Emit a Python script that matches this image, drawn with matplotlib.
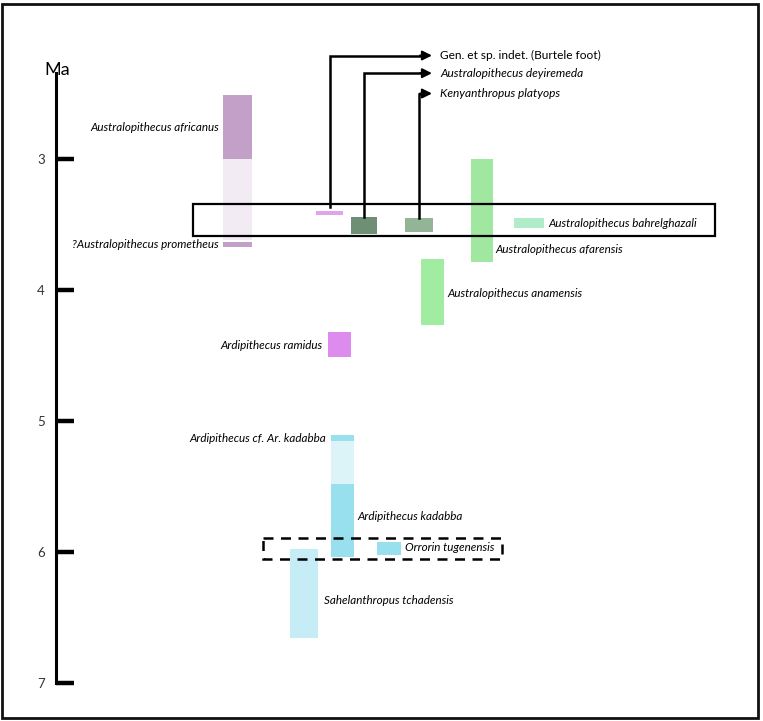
import matplotlib
matplotlib.use("Agg")
import matplotlib.pyplot as plt
from matplotlib.patches import Rectangle

plt.rcParams['font.family'] = ['Lato', 'DejaVu Sans']

# ---------------- data (Ma) ----------------
taxa = ["Australopithecus africanus", "?Australopithecus prometheus",
        "Gen. et sp. indet. (Burtele foot)", "Australopithecus deyiremeda",
        "Kenyanthropus platyops", "Australopithecus afarensis",
        "Australopithecus anamensis", "Australopithecus bahrelghazali",
        "Ardipithecus ramidus", "Ardipithecus cf. Ar. kadabba",
        "Ardipithecus kadabba", "Orrorin tugenensis", "Sahelanthropus tchadensis"]
ma_start = [2.51, 3.63, 3.40, 3.44, 3.45, 3.00, 3.76, 3.45, 4.32, 5.11, 5.48, 5.92, 5.98]
ma_end   = [3.00, 3.67, 3.43, 3.57, 3.56, 3.79, 4.27, 3.53, 4.51, 5.15, 6.04, 6.02, 6.66]
# uncertain (stippled) extensions
unc_start = [3.00, 5.15]
unc_end   = [3.62, 5.48]
ticks = [3, 4, 5, 6, 7]
tick_labels = ["3", "4", "5", "6", "7"]
# boxes (Ma)
box_solid = (3.34, 3.59)
box_dash = (5.89, 6.05)

# ---------------- layout ----------------
W, H = 763, 721
fig = plt.figure(figsize=(W / 100, H / 100), dpi=100)
ax = fig.add_axes([0, 0, 1, 1])
ax.set_xlim(0, W)
y0 = 3 - 159 / 131
y1 = 3 + (H - 159) / 131
ax.set_ylim(y1, y0)

# x positions (pixels) and widths of bars
xs = [223, 223, 316, 351, 405, 471, 421, 514, 328, 331, 331, 377, 290]
ws = [29, 29, 27, 26, 28, 22, 23, 30, 23, 23, 23, 24, 28]
cols = ["#c3a0c8", "#c3a0c8", "#e0a4ea", "#6f8f74", "#93b497", "#a0e8a0",
        "#a0eca0", "#b0ecc8", "#dd8cee", "#99e0ee", "#99e0ee", "#99e0ee", "#c6ecf5"]

for x, w, s, e, c in zip(xs, ws, ma_start, ma_end, cols):
    ax.add_patch(Rectangle((x, s), w, e - s, facecolor=c, edgecolor='none', zorder=2))

unc_x = [223, 331]
unc_w = [29, 23]
unc_c = ["#f3ebf3", "#dcf3f8"]
for x, w, s, e, c in zip(unc_x, unc_w, unc_start, unc_end, unc_c):
    ax.add_patch(Rectangle((x, s), w, e - s, facecolor=c, edgecolor='none', zorder=1))

# boxes
ax.add_patch(Rectangle((193, box_solid[0]), 522, box_solid[1] - box_solid[0],
                       facecolor='none', edgecolor='black', lw=1.6, zorder=3))
ax.add_patch(Rectangle((263, box_dash[0]), 239, box_dash[1] - box_dash[0],
                       facecolor='none', edgecolor='black', lw=1.8,
                       linestyle=(0, (4, 3)), zorder=3))

# arrows for the three taxa
arrow_tops = [2.21, 2.345, 2.50]   # Ma level of horizontal arrow segment
arrow_src_x = [330, 364, 419]
arrow_src_y = [3.37, 3.44, 3.45]
for xs_, ys_, yt, lab, it in zip(arrow_src_x, arrow_src_y, arrow_tops,
                                 taxa[2:5], ['normal', 'italic', 'italic']):
    ax.plot([xs_, xs_, 422], [ys_, yt, yt], color='black', lw=1.8, zorder=4,
            solid_joinstyle='miter')
    ax.annotate("", xy=(432, yt), xytext=(420, yt),
                arrowprops=dict(arrowstyle='-|>', color='black', lw=1.5,
                                mutation_scale=14, shrinkA=0, shrinkB=0))
    ax.text(440, yt, lab, fontsize=8.6, style=it, va='center', ha='left')

fs = 8.4
ax.text(219, 2.76, taxa[0], fontsize=fs, style='italic', ha='right', va='center')
ax.text(219, 3.65, taxa[1], fontsize=fs, style='italic', ha='right', va='center')
ax.text(548, 3.49, taxa[7], fontsize=fs, style='italic', ha='left', va='center')
ax.text(495, 3.69, taxa[5], fontsize=fs, style='italic', ha='left', va='center')
ax.text(447, 4.03, taxa[6], fontsize=fs, style='italic', ha='left', va='center')
ax.text(322, 4.42, taxa[8], fontsize=fs, style='italic', ha='right', va='center')
ax.text(326, 5.13, taxa[9], fontsize=fs, style='italic', ha='right', va='center')
ax.text(357, 5.73, taxa[10], fontsize=fs, style='italic', ha='left', va='center')
ax.text(405, 5.965, taxa[11], fontsize=fs, style='italic', ha='left', va='center')
ax.text(324, 6.37, taxa[12], fontsize=fs, style='italic', ha='left', va='center')

# axis as a real spine
for s in ['top', 'right', 'bottom']:
    ax.spines[s].set_visible(False)
ax.spines['left'].set_position(('data', 56))
ax.spines['left'].set_bounds(3 + (73 - 159) / 131, 7)
ax.spines['left'].set_linewidth(2.2)
ax.set_yticks(ticks)
ax.set_yticklabels(tick_labels, fontsize=9.5, color='#333333')
ax.tick_params(axis='y', direction='in', length=13, width=3.2, pad=8)
ax.set_xticks([])
ax.patch.set_alpha(0)
ax.text(57, 3 + (70 - 159) / 131, "Ma", fontsize=13, ha='center', va='center')

# outer frame
fig.patches.append(Rectangle((2 / W, 3 / H), 756 / W, 714 / H, transform=fig.transFigure,
                             facecolor='none', edgecolor='#111111', lw=2))

fig.savefig("out.png", dpi=100)
